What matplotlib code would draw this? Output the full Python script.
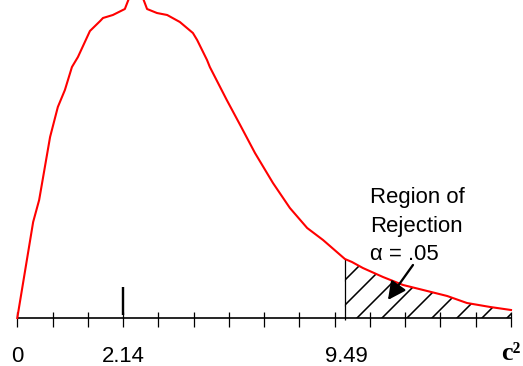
import numpy as np
import matplotlib
matplotlib.use("Agg")
import matplotlib.pyplot as plt

# curve (x in tick units, y in arbitrary height units)
x = np.array([0.00, 0.45, 0.62, 0.93, 1.15, 1.35, 1.55, 1.72, 2.06, 2.35, 2.43,
              2.71, 3.05, 3.37, 3.68, 3.96, 4.25, 4.61, 4.98, 5.10, 5.38, 5.46,
              5.94, 6.32, 6.74, 7.25, 7.73, 8.22, 8.67, 9.29, 9.49, 9.80, 10.37,
              10.94, 11.51, 12.19, 12.75, 13.41, 14.00])
y = np.array([0.00, 0.96, 1.18, 1.81, 2.11, 2.28, 2.51, 2.61, 2.87, 2.97, 3.00,
              3.03, 3.09, 3.38, 3.09, 3.05, 3.03, 2.96, 2.85, 2.78, 2.58, 2.51,
              2.18, 1.93, 1.65, 1.35, 1.10, 0.90, 0.78, 0.59, 0.56, 0.50, 0.41,
              0.33, 0.28, 0.22, 0.15, 0.11, 0.08])

ticks = np.arange(0, 15)
x_crit = 9.29          # where the rejection region starts
x_mark = 3             # tall mark labelled 2.14
label_pos = [0, 3, 9.34]
label_txt = ['0', '2.14', '9.49']

plt.rcParams['hatch.linewidth'] = 0.75
fig = plt.figure(figsize=(523 / 150, 366 / 150), dpi=150)
ax = fig.add_axes([0, 0, 1, 1])
ax.set_xlim(-0.49, 14.34)
ax.set_ylim(-0.48, 3.18)
ax.axis('off')

# axis line and ticks
ax.hlines(0, 0, 14, color='black', lw=0.8)
ax.vlines(ticks, -0.09, 0.06, color='black', lw=0.6)
ax.vlines(x_mark, 0.03, 0.31, color='black', lw=1.15)

# rejection region
m = x >= x_crit
ax.fill_between(x[m], 0, y[m], facecolor='none', edgecolor='black',
                hatch='//', linewidth=0)
ax.vlines(x_crit, -0.02, np.interp(x_crit, x, y), color='black', lw=0.6)

ax.plot(x, y, color='red', lw=1.0, zorder=3)

fs = 10.6
for p, t in zip(label_pos, label_txt):
    ax.text(p, -0.435, t, ha='center', va='baseline', fontsize=fs,
            family='Liberation Sans')
ax.text(13.72, -0.42, 'c\u00b2', ha='left', va='baseline', fontsize=12.5,
        family='Liberation Serif', weight='bold')

ax.text(10.0, 1.15, 'Region of', fontsize=fs, family='Liberation Sans', va='baseline')
ax.text(10.0, 0.86, 'Rejection', fontsize=fs, family='Liberation Sans', va='baseline')
ax.text(10.0, 0.58, '\u03b1 = .05', fontsize=fs, family='Liberation Sans', va='baseline')

ax.annotate('', xy=(10.51, 0.18), xytext=(11.22, 0.53),
            arrowprops=dict(arrowstyle='-|>', color='black', lw=1.1,
                            mutation_scale=18, shrinkA=0, shrinkB=0))

fig.savefig('out.png', dpi=150)
